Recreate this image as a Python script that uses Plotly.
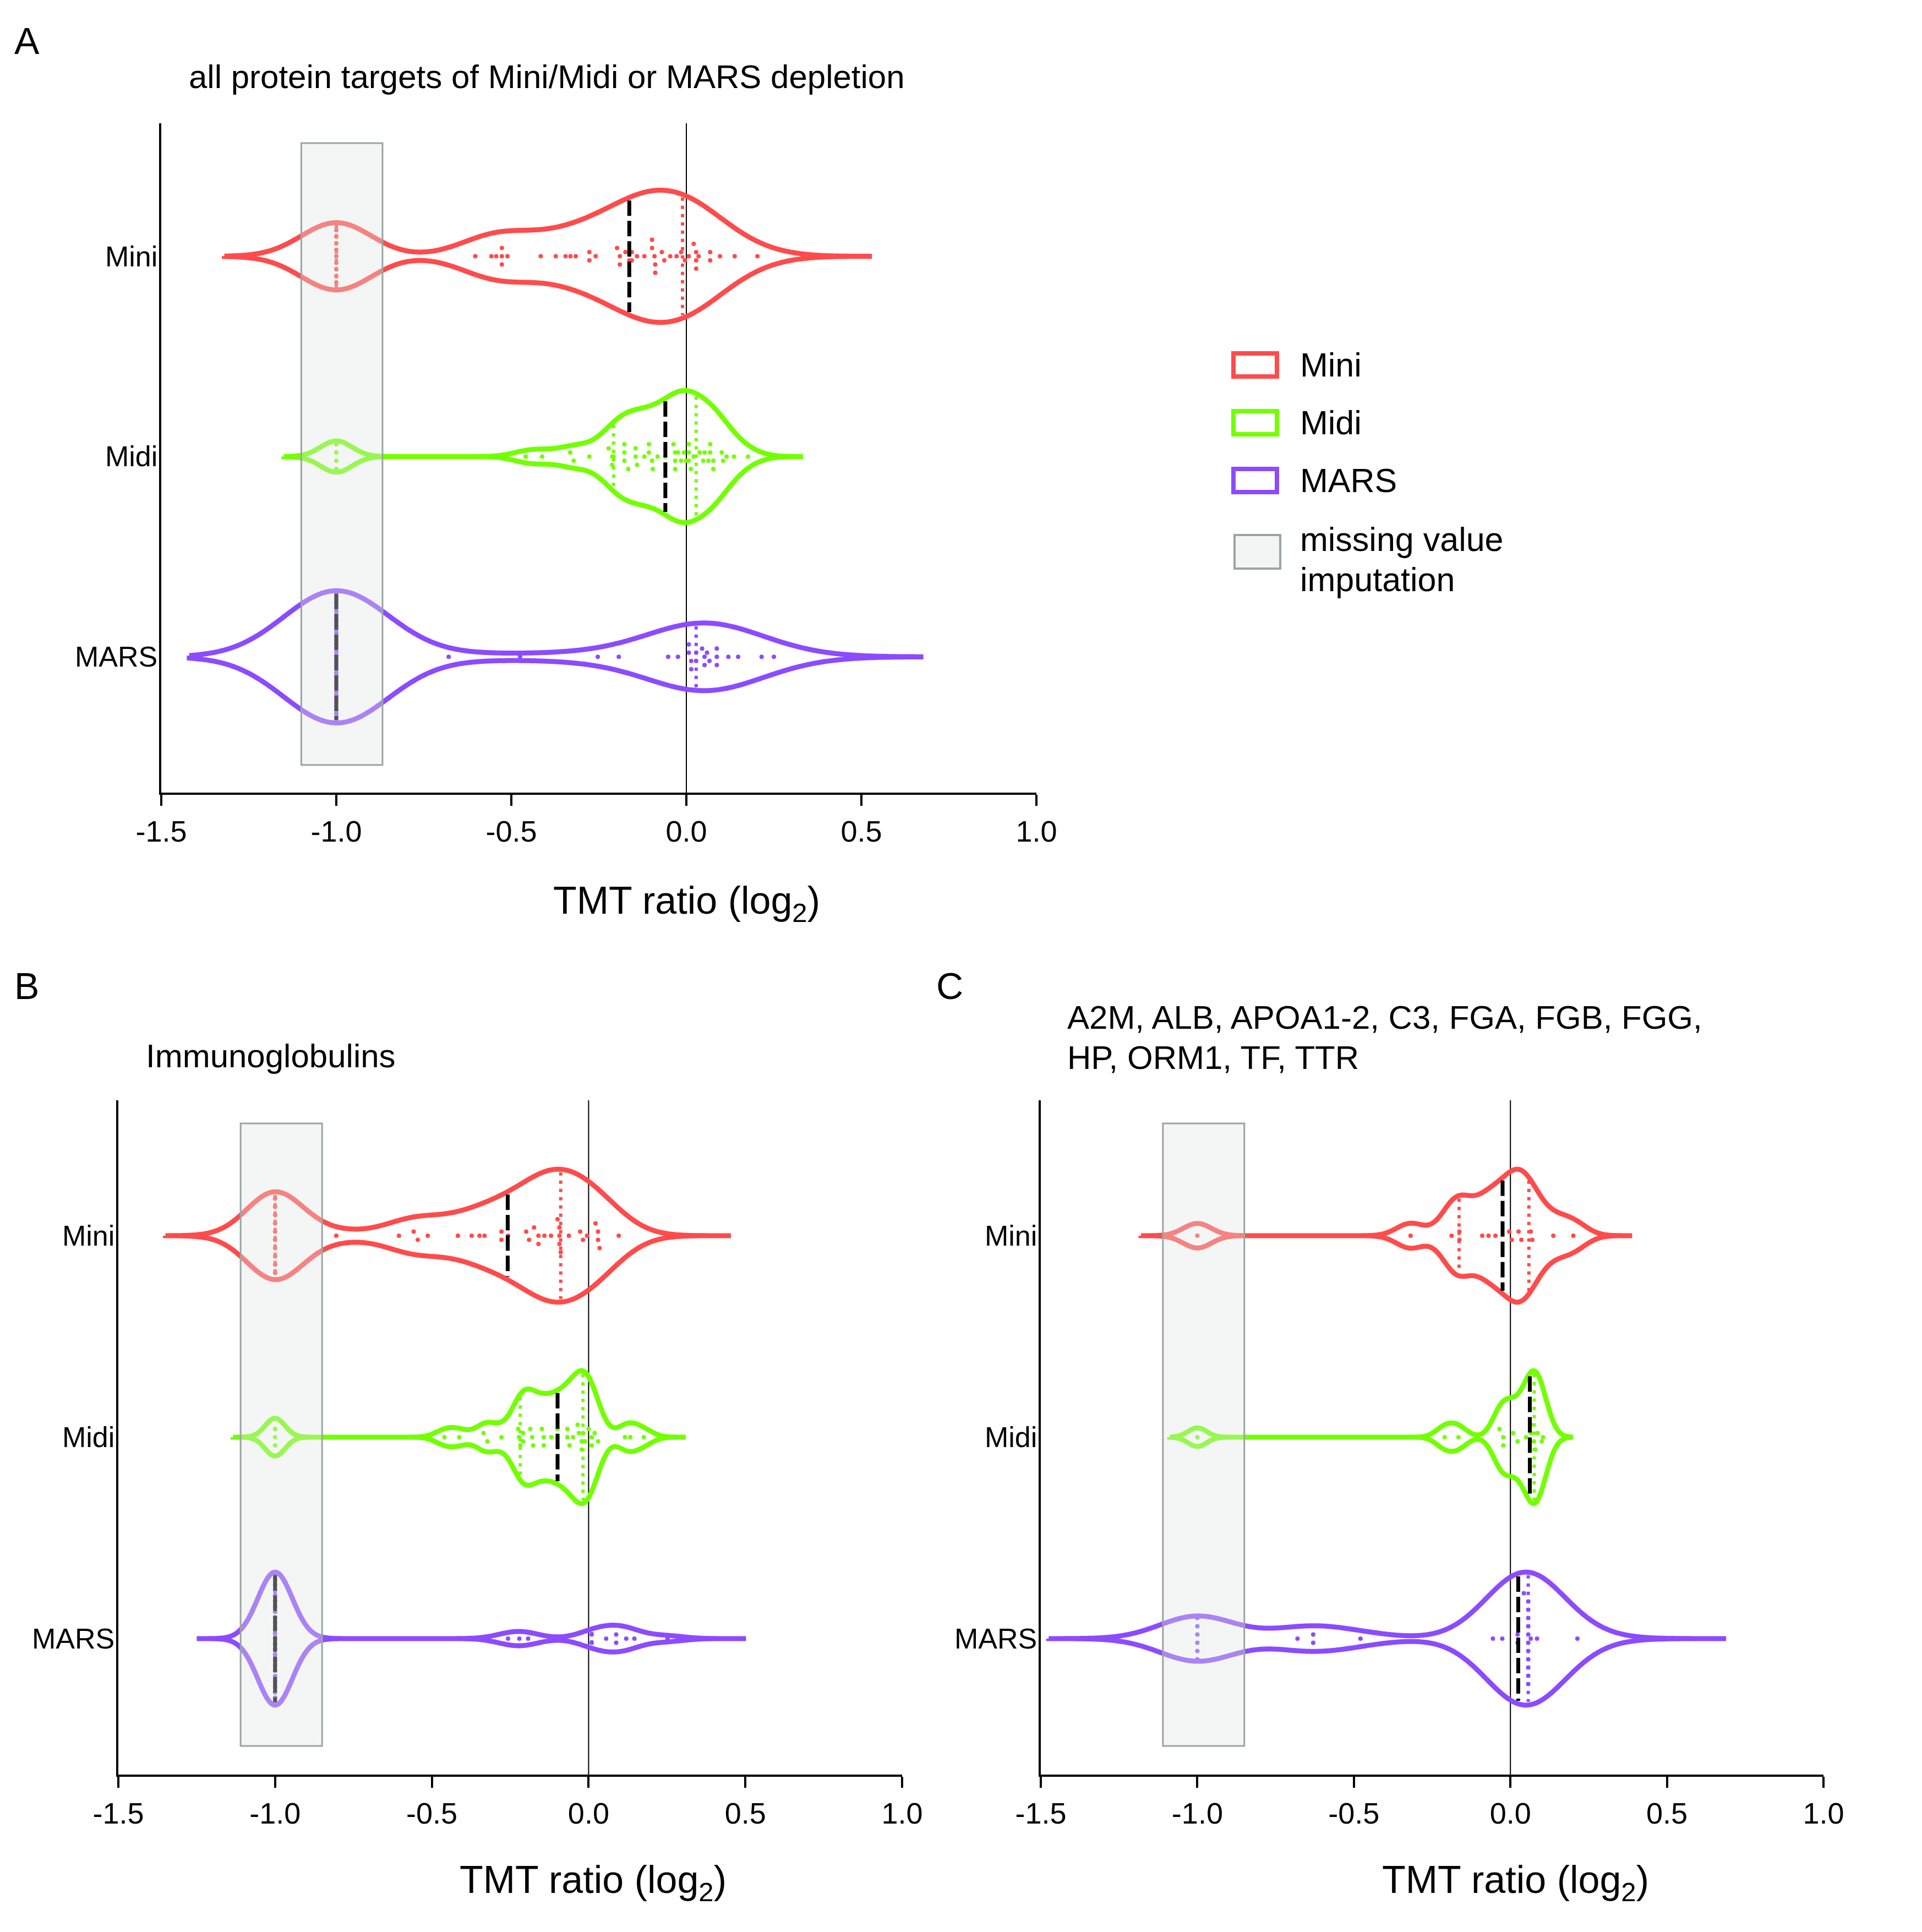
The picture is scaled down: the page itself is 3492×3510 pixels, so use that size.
import numpy as np
import plotly.graph_objects as go

W, H = 3492, 3510
PAGE_OFFSET = 8    # px, the page's body margin shifts the whole figure
FONT = "Liberation Sans, Arial, Helvetica, sans-serif"

GROUPS = ["Mini", "Midi", "MARS"]
COLORS = ["#FF4B4B", "#72FF00", "#8C4BFF"]

X_TICKS = [-1.5, -1.0, -0.5, 0.0, 0.5, 1.0]
X_TICKTEXT = ["-1.5", "-1.0", "-0.5", "0.0", "0.5", "1.0"]

# TMT ratios (log2); imputed values sit at -1.0
A_MINI = [-1.0] * 11 + [
    -0.603, -0.557, -0.543, -0.527, -0.527, -0.527, -0.511, -0.416, -0.373,
    -0.345, -0.331, -0.316, -0.277, -0.277, -0.259, -0.198, -0.190, -0.190,
    -0.174, -0.163, -0.156, -0.156, -0.141, -0.120, -0.098, -0.098, -0.091,
    -0.089, -0.089, -0.070, -0.063, -0.046, -0.028, -0.015, -0.004, 0.007,
    0.021, 0.028, 0.028, 0.028, 0.035, 0.068, 0.068, 0.096, 0.138, 0.203,
]
A_MIDI = [-1.0] * 4 + [
    -0.459, -0.412, -0.332, -0.322, -0.277, -0.222, -0.212, -0.212, -0.208,
    -0.177, -0.177, -0.177, -0.166, -0.145, -0.145, -0.141, -0.120, -0.107,
    -0.107, -0.098, -0.096, -0.082, -0.060, -0.060, -0.060, -0.037, -0.032,
    -0.032, -0.032, -0.024, -0.015, -0.007, -0.001, 0.007, 0.007, 0.007,
    0.013, 0.021, 0.038, 0.048, 0.052, 0.063, 0.068, 0.068, 0.077, 0.077,
    0.101, 0.105, 0.115, 0.136, 0.176,
]
A_MARS = [-1.0] * 36 + [
    -0.679, -0.475, -0.253, -0.193, -0.052, -0.024, 0.007, 0.007, 0.014,
    0.014, 0.028, 0.028, 0.045, 0.052, 0.052, 0.059, 0.066, 0.087, 0.087,
    0.087, 0.120, 0.148, 0.215, 0.250,
]
B_MINI = [-1.0] * 10 + [
    -0.805, -0.605, -0.558, -0.545, -0.513, -0.417, -0.373, -0.348, -0.332,
    -0.278, -0.278, -0.257, -0.199, -0.190, -0.174, -0.160, -0.160, -0.141,
    -0.120, -0.099, -0.093, -0.093, -0.093, -0.089, -0.063, -0.027, -0.018,
    -0.005, 0.022, 0.030, 0.030, 0.035, 0.096,
]
B_MIDI = [-1.0] * 3 + [
    -0.460, -0.413, -0.335, -0.323, -0.278, -0.225, -0.222, -0.218, -0.209,
    -0.209, -0.186, -0.180, -0.177, -0.149, -0.143, -0.143, -0.119, -0.099,
    -0.099, -0.099, -0.068, -0.068, -0.061, -0.050, -0.035, -0.031, -0.022,
    -0.022, -0.018, -0.012, 0.000, 0.010, 0.010, 0.019, 0.030, 0.116, 0.133,
    0.176,
]
B_MARS = [-1.0] * 25 + [
    -0.257, -0.221, -0.193, 0.010, 0.010, 0.056, 0.088, 0.088, 0.120, 0.146,
    0.252,
]
C_MINI = [-1.0] + [
    -0.319, -0.188, -0.163, -0.163, -0.090, -0.070, -0.048, -0.004, 0.004,
    0.026, 0.035, 0.065, 0.070, 0.137, 0.201,
]
C_MIDI = [-1.0] + [
    -0.210, -0.166, -0.035, -0.023, -0.023, 0.009, 0.023, 0.050, 0.065, 0.065,
    0.075, 0.079, 0.087, 0.100, 0.104,
]
C_MARS = [-1.0] * 6 + [
    -0.680, -0.630, -0.630, -0.479, -0.056, -0.026, 0.023, 0.023, 0.043,
    0.057, 0.057, 0.057, 0.057, 0.057, 0.057, 0.057, 0.057, 0.057, 0.057,
    0.057, 0.065, 0.085, 0.214,
]

# median (dashed black) and quartile (dotted) positions as drawn
A_MEDIANS = [-0.163, -0.060, -1.0]
A_QUARTILES = [[-1.0, -0.011], [-0.208, 0.028], [-1.0, 0.028]]
B_MEDIANS = [-0.258, -0.099, -1.0]
B_QUARTILES = [[-1.0, -0.089], [-0.218, -0.018], [-1.0, 0.010]]
C_MEDIANS = [-0.025, 0.062, 0.025]
C_QUARTILES = [[-0.164, 0.059], [0.076], [0.057]]

# range covered by missing value imputation
A_IMPUTE = [-1.10, -0.868]
B_IMPUTE = [-1.11, -0.85]
C_IMPUTE = [-1.11, -0.85]

PANELS = [
    dict(letter="A", data=[A_MINI, A_MIDI, A_MARS], med=A_MEDIANS, qs=A_QUARTILES,
         impute=A_IMPUTE, bw=[0.10, 0.045, 0.15], ext=[0.32, 0.15, 0.42],
         px=(293, 1883), py=(224, 1440), yrange=[2.678, -0.664],
         rect_y=[-0.565, 2.54]),
    dict(letter="B", data=[B_MINI, B_MIDI, B_MARS], med=B_MEDIANS, qs=B_QUARTILES,
         impute=B_IMPUTE, bw=[0.09, 0.032, 0.055], ext=[0.35, 0.134, 0.25],
         px=(215, 1639), py=(1999, 3224), yrange=[2.675, -0.672],
         rect_y=[-0.557, 2.533]),
    dict(letter="C", data=[C_MINI, C_MIDI, C_MARS], med=C_MEDIANS, qs=C_QUARTILES,
         impute=C_IMPUTE, bw=[0.045, 0.03, 0.12], ext=[0.18, 0.088, 0.475],
         px=(1891, 3313), py=(1999, 3224), yrange=[2.675, -0.672],
         rect_y=[-0.557, 2.533]),
]

HALF = 0.33        # max violin half-height in category units
DOT_GAP = 8        # px, points closer than this get stacked
PITCH_PX = 15      # px, vertical spacing of stacked points


def kde(values, bw, ext, n=700):
    v = np.asarray(values, dtype=float)
    xs = np.linspace(v.min() - ext, v.max() + ext, n)
    d = np.exp(-0.5 * ((xs[:, None] - v[None, :]) / bw) ** 2).sum(axis=1)
    return xs, d / d.max()


def swarm(values, ppu, pitch, halfw):
    v = np.sort(np.asarray(values, dtype=float))
    groups = []
    for x in v:
        if groups and (x - groups[-1][0]) * ppu < DOT_GAP:
            groups[-1].append(x)
        else:
            groups.append([x])
    px, py = [], []
    for grp in groups:
        n = len(grp)
        step = pitch
        lim = 0.97 * halfw(grp[0])
        if n > 1 and step * (n - 1) / 2 > lim:
            step = 2 * lim / (n - 1)
        for k, x in enumerate(grp):
            px.append(x)
            py.append((k - (n - 1) / 2) * step)
    return np.array(px), np.array(py)


def paper_x(v):
    return (v - PAGE_OFFSET) / W


def paper_y(v):
    return 1 - (v - PAGE_OFFSET) / H


fig = go.Figure()
shapes, annotations = [], []
layout_axes = {}

for i, p in enumerate(PANELS):
    sfx = "" if i == 0 else str(i + 1)
    xa, ya = "x" + sfx, "y" + sfx
    ppu = (p["px"][1] - p["px"][0]) / 2.5
    ppc = (p["py"][1] - p["py"][0]) / (p["yrange"][0] - p["yrange"][1])
    pitch = PITCH_PX / ppc

    for g, vals in enumerate(p["data"]):
        color = COLORS[g]
        xs, dens = kde(vals, p["bw"][g], p["ext"][g])
        hw = HALF * dens

        def halfw(x, xs=xs, hw=hw):
            return float(np.interp(x, xs, hw))

        # outline
        fig.add_trace(go.Scatter(
            x=np.r_[xs, xs[::-1], xs[0]],
            y=np.r_[g - hw, (g + hw)[::-1], g - hw[0]],
            mode="lines", line=dict(color=color, width=9, simplify=False),
            xaxis=xa, yaxis=ya, hoverinfo="skip", showlegend=False,
        ))
        # points
        sx, sy = swarm(vals, ppu, pitch, halfw)
        fig.add_trace(go.Scatter(
            x=sx, y=g + sy, mode="markers",
            marker=dict(color=color, size=8, line=dict(width=0)),
            xaxis=xa, yaxis=ya, hoverinfo="x", showlegend=False,
        ))
        # quartiles
        for q in p["qs"][g]:
            h = max(halfw(q) - 0.015, 0.0)
            fig.add_trace(go.Scatter(
                x=[q, q], y=[g - h, g + h], mode="lines",
                line=dict(color=color, width=6, dash="6px,9px"),
                xaxis=xa, yaxis=ya, hoverinfo="skip", showlegend=False,
            ))
        # median
        m = p["med"][g]
        h = max(halfw(m) - 0.015, 0.0)
        fig.add_trace(go.Scatter(
            x=[m, m], y=[g - h, g + h], mode="lines",
            line=dict(color="black", width=7, dash="28px,9px"),
            xaxis=xa, yaxis=ya, hoverinfo="skip", showlegend=False,
        ))

        # category label, set tight against the axis line
        annotations.append(dict(
            text=GROUPS[g], x=paper_x(p["px"][0] - 5), y=g,
            xref="paper", yref=ya, xanchor="right", yanchor="middle",
            showarrow=False, font=dict(size=52, color="black", family=FONT),
        ))

    layout_axes["xaxis" + sfx] = dict(
        domain=[paper_x(p["px"][0]), paper_x(p["px"][1])],
        anchor=ya, range=[-1.5, 1.0], tickvals=X_TICKS, ticktext=X_TICKTEXT,
        ticks="outside", ticklen=20, tickwidth=3.5, tickcolor="black",
        showline=True, linewidth=3.5, linecolor="black",
        showgrid=False, zeroline=False, automargin=False,
        tickfont=dict(size=54, color="black"),
    )
    layout_axes["yaxis" + sfx] = dict(
        domain=[paper_y(p["py"][1]), paper_y(p["py"][0])],
        anchor=xa, range=p["yrange"], showticklabels=False,
        ticks="", showline=True, linewidth=3.5, linecolor="black",
        showgrid=False, zeroline=False, automargin=False,
    )

    # zero line
    shapes.append(dict(
        type="line", xref=xa, yref=ya + " domain", x0=0, x1=0, y0=0, y1=1,
        line=dict(color="black", width=2), layer="below",
    ))
    # missing value imputation band, drawn over the violins
    shapes.append(dict(
        type="rect", xref=xa, yref=ya,
        x0=p["impute"][0], x1=p["impute"][1],
        y0=p["rect_y"][0], y1=p["rect_y"][1],
        fillcolor="rgba(224,230,227,0.36)",
        line=dict(color="#9AA5A2", width=3), layer="above",
    ))


def add_text(text, x, y, size, xanchor="left", yanchor="middle"):
    annotations.append(dict(
        text=text, x=paper_x(x), y=paper_y(y), xref="paper", yref="paper",
        xanchor=xanchor, yanchor=yanchor, showarrow=False,
        font=dict(size=size, color="black", family=FONT), align="left",
    ))


# panel letters, titles, axis titles
add_text("A", 24, 74, 68)
add_text("B", 24, 1791, 68)
add_text("C", 1699, 1791, 68)
add_text("all protein targets of Mini/Midi or MARS depletion", 341, 139, 60)
add_text("Immunoglobulins", 263, 1918, 60)
add_text("A2M, ALB, APOA1-2, C3, FGA, FGB, FGG,", 1937, 1849, 60)
add_text("HP, ORM1, TF, TTR", 1937, 1921, 60)
for cx, cy in [(1247, 1641), (1077, 3420), (2753, 3420)]:
    add_text("TMT ratio (log<sub>2</sub>)", cx, cy, 70, xanchor="center")

# legend
LEGEND_Y = [663, 768, 873]
for name, color, cy in zip(GROUPS, COLORS, LEGEND_Y):
    shapes.append(dict(
        type="rect", xref="paper", yref="paper",
        x0=paper_x(2241), x1=paper_x(2320),
        y0=paper_y(cy + 21), y1=paper_y(cy - 21),
        fillcolor="white", line=dict(color=color, width=8),
    ))
    add_text(name, 2360, cy, 61)
shapes.append(dict(
    type="rect", xref="paper", yref="paper",
    x0=paper_x(2243), x1=paper_x(2326), y0=paper_y(1033), y1=paper_y(972),
    fillcolor="#F3F5F4", line=dict(color="#9AA5A2", width=4),
))
add_text("missing value", 2360, 980, 61)
add_text("imputation", 2360, 1053, 61)

fig.update_layout(
    width=W, height=H, margin=dict(l=0, r=0, t=0, b=0, autoexpand=False),
    paper_bgcolor="white", plot_bgcolor="white",
    font=dict(family=FONT, color="black"),
    showlegend=False, shapes=shapes, annotations=annotations,
    **layout_axes,
)

fig.write_html("out.html")
